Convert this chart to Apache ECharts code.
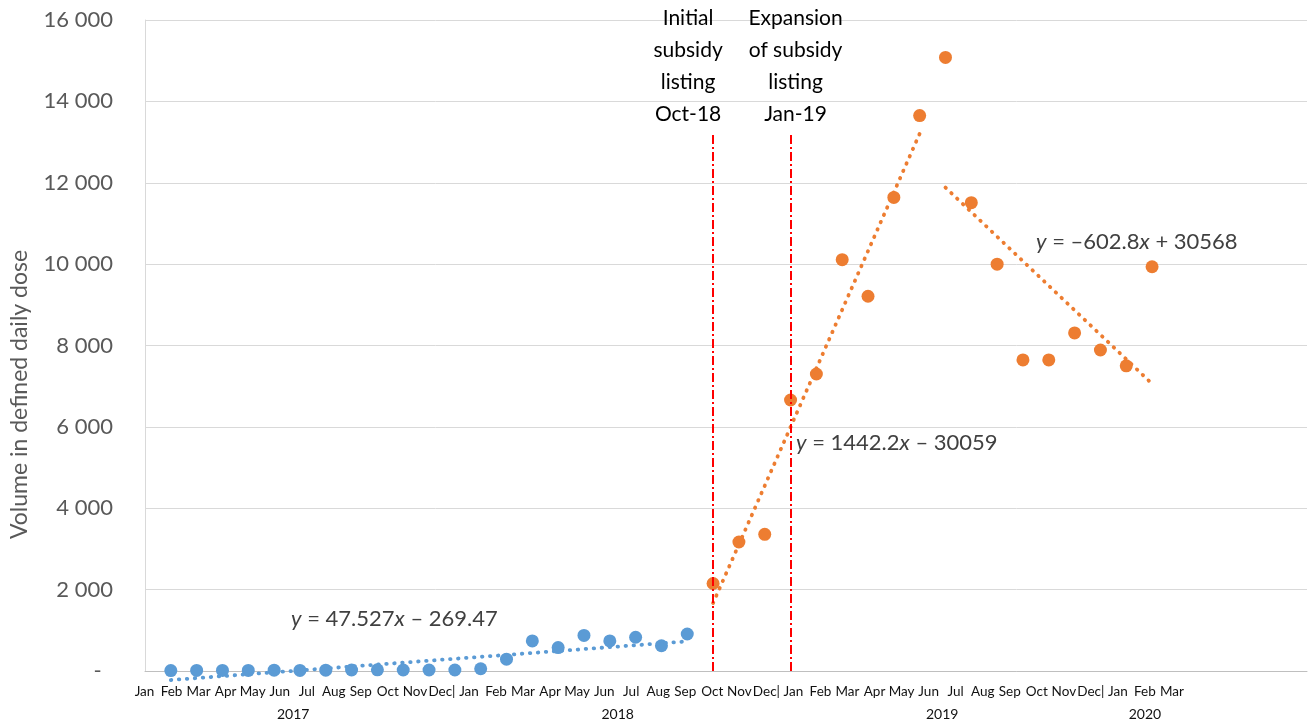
<!DOCTYPE html>
<html>
<head>
<meta charset="utf-8">
<script src="https://cdn.jsdelivr.net/npm/echarts@6/dist/echarts.min.js"></script>
<style>
  html, body { margin: 0; padding: 0; background: #ffffff; }
  #chart { width: 1309px; height: 725px; }
</style>
</head>
<body>
<div id="chart"></div>
<script>
// Monthly dispensing volume (DDD), Jan 2017 – Mar 2020; month index 1 = Jan 2017
const monthNames = ['Jan', 'Feb', 'Mar', 'Apr', 'May', 'Jun', 'Jul', 'Aug', 'Sep', 'Oct', 'Nov', 'Dec'];
const years = ['2017', '2018', '2019', '2020'];
const monthsPerYear = [12, 12, 12, 3];

// Before subsidy listing: Jan 2017 – Sep 2018 (index 1..21)
const beforeValues = [10, 15, 15, 15, 20, 15, 20, 25, 30, 25, 25, 25,
                      55, 290, 740, 575, 875, 740, 830, 620, 910];
// After subsidy listing: Oct 2018 – Mar 2020 (index 22..39)
const afterValues = [2150, 3170, 3360, 6660, 7300, 10110, 9210, 11640, 13650,
                     15080, 11510, 10000, 7645, 7645, 8310, 7890, 7500, 9935];

// Linear trendlines: y = slope * x + intercept over [from, to]
const trendBefore = { from: 1, to: 21, slope: 47.527, intercept: -269.47, text: '{i|y} = 47.527{i|x} – 269.47' };
const trendRise   = { from: 22, to: 30, slope: 1442.2, intercept: -30059, text: '{i|y} = 1442.2{i|x} – 30059' };
const trendFall   = { from: 31, to: 39, slope: -602.8, intercept: 30568, text: '{i|y} = –602.8{i|x} + 30568' };

// Policy events
const eventMonths = [22, 25];
const eventTexts = ['Initial\nsubsidy\nlisting\nOct-18', 'Expansion\nof subsidy\nlisting\nJan-19'];

const yTicks = { min: 0, max: 16000, interval: 2000 };

// ---- derived structures ----
const monthLabels = [];
const yearCenters = [];
let count = 0;
years.forEach((yr, k) => {
  for (let m = 0; m < monthsPerYear[k]; m++) {
    monthLabels.push(monthNames[m] + (m === 11 ? '|' : ''));
  }
  yearCenters.push(count + monthsPerYear[k] / 2);
  count += monthsPerYear[k];
});

const beforePoints = beforeValues.map((v, i) => [i + 1, v]);
const afterPoints = afterValues.map((v, i) => [i + 22, v]);
const trendLine = t => [[t.from, t.slope * t.from + t.intercept], [t.to, t.slope * t.to + t.intercept]];

const BLUE = '#5b9bd5';
const ORANGE = '#ed7d31';
const FONT = 'Lato, "Open Sans", sans-serif';

const chart = echarts.init(document.getElementById('chart'), null, { renderer: 'canvas' });

const dotted = color => ({
  color: color, width: 3.8, type: [0.5, 7.5], cap: 'round'
});

const fmtThousands = v => v === 0 ? '-  ' : String(v).replace(/\B(?=(\d{3})+(?!\d))/g, ' ');

const option = {
  animation: false,
  backgroundColor: '#ffffff',
  grid: [
    { left: 144, right: 2, top: 20, bottom: 54 },
    { left: 131, right: 123.5, top: 20, bottom: 54 }
  ],
  xAxis: [
    {
      gridIndex: 0, type: 'value', min: 0, max: 45,
      axisLine: { show: true, lineStyle: { color: '#bfbfbf', width: 1 } },
      axisTick: { show: false }, axisLabel: { show: false }, splitLine: { show: false }
    },
    {
      gridIndex: 1, type: 'category', data: monthLabels, boundaryGap: true, position: 'bottom',
      axisLine: { show: false }, axisTick: { show: false }, splitLine: { show: false },
      axisLabel: { interval: 0, margin: 14, color: '#111111', fontSize: 13.5, fontFamily: FONT }
    },
    {
      gridIndex: 1, type: 'value', min: 0, max: count, position: 'bottom',
      axisLine: { show: false }, axisTick: { show: false }, splitLine: { show: false },
      axisLabel: {
        customValues: yearCenters, margin: 36, color: '#111111', fontSize: 14, fontFamily: FONT,
        formatter: v => years[yearCenters.indexOf(v)] || ''
      }
    }
  ],
  yAxis: [
    {
      gridIndex: 0, type: 'value', min: yTicks.min, max: yTicks.max, interval: yTicks.interval,
      name: 'Volume in defined daily dose', nameLocation: 'middle', nameGap: 114, nameRotate: 90,
      nameTextStyle: { color: '#595959', fontSize: 23, fontFamily: FONT, padding: [0, 98, 0, 0] },
      axisLine: { show: true, lineStyle: { color: '#d9d9d9' } },
      axisTick: { show: false },
      axisLabel: { margin: 32, color: '#595959', fontSize: 22, fontFamily: FONT, formatter: fmtThousands },
      splitLine: { show: true, lineStyle: { color: '#d9d9d9', width: 1 } }
    },
    { gridIndex: 1, type: 'value', show: false }
  ],
  series: [
    {
      name: 'Trend before', type: 'line', xAxisIndex: 0, yAxisIndex: 0,
      data: trendLine(trendBefore), showSymbol: false, symbol: 'none', clip: false,
      lineStyle: dotted(BLUE), z: 3
    },
    {
      name: 'Trend rise', type: 'line', xAxisIndex: 0, yAxisIndex: 0,
      data: trendLine(trendRise), showSymbol: false, symbol: 'none', clip: false,
      lineStyle: dotted(ORANGE), z: 3
    },
    {
      name: 'Trend fall', type: 'line', xAxisIndex: 0, yAxisIndex: 0,
      data: trendLine(trendFall), showSymbol: false, symbol: 'none', clip: false,
      lineStyle: dotted(ORANGE), z: 3
    },
    {
      name: 'Before listing', type: 'scatter', xAxisIndex: 0, yAxisIndex: 0,
      data: beforePoints, symbolSize: 13, itemStyle: { color: BLUE, opacity: 1 }, z: 2
    },
    {
      name: 'After listing', type: 'scatter', xAxisIndex: 0, yAxisIndex: 0,
      data: afterPoints, symbolSize: 13, itemStyle: { color: ORANGE, opacity: 1 }, z: 2,
      markLine: {
        silent: true, symbol: 'none', animation: false,
        lineStyle: { color: '#ff0000', width: 2, type: [9, 3, 2, 3] },
        label: {
          show: true, position: 'end', distance: 4, color: '#000000',
          fontSize: 21, lineHeight: 32, fontFamily: FONT, align: 'center'
        },
        data: eventMonths.map((m, k) => [
          {
            coord: [m, 0],
            label: { formatter: eventTexts[k], padding: k === 0 ? [0, 50, 0, 0] : [0, 0, 0, 10] }
          },
          { coord: [m, 13200] }
        ])
      }
    }
  ],
  graphic: [
    { t: trendBefore, x: 291, y: 622 },
    { t: trendRise, x: 796, y: 446 },
    { t: trendFall, x: 1036, y: 245 }
  ].map(e => ({
    type: 'text', left: e.x, top: e.y - 14, silent: true, z: 10,
    style: {
      text: e.t.text, fill: '#404040', font: '22px ' + FONT,
      rich: { i: { fontStyle: 'italic', fontSize: 22, fontFamily: FONT, fill: '#404040' } }
    }
  }))
};

chart.setOption(option);
</script>
</body>
</html>
